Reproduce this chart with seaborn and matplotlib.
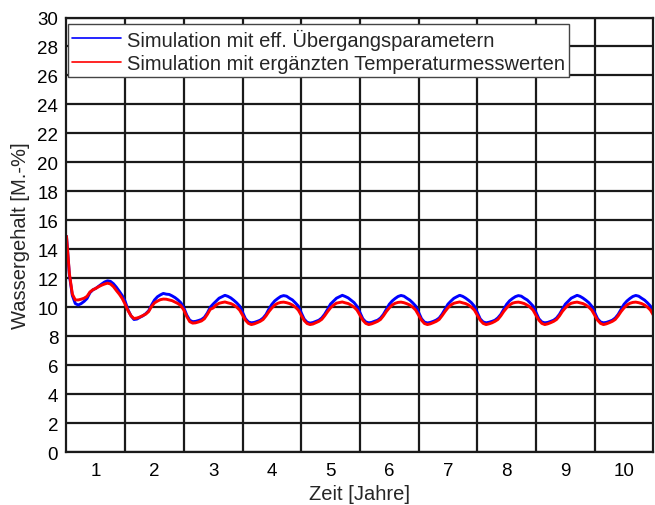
import numpy as np
import pandas as pd
import matplotlib
matplotlib.use("Agg")
import matplotlib.pyplot as plt
import seaborn as sns

# --- SETUP ---
sns.set_theme(style="white")
plt.rcParams["font.family"] = ["Liberation Sans", "DejaVu Sans"]

# --- DATA ---
# water content [M.-%], one value every 0.05 years from 0.5 to 10.5
zeit = np.round(np.arange(0.5, 10.5001, 0.05), 2)

label_blue = "Simulation mit eff. Übergangsparametern"
label_red = "Simulation mit ergänzten Temperaturmesswerten"

# each block covers year n-0.5 .. n+0.45
blue_1 = [14.9, 12.2, 10.8, 10.25, 10.15, 10.25, 10.4, 10.6, 11.0, 11.2,
          11.3, 11.45, 11.6, 11.74, 11.82, 11.78, 11.62, 11.38, 11.1, 10.8]
blue_2 = [10.4, 9.8, 9.4, 9.15, 9.18, 9.3, 9.4, 9.55, 9.75, 10.15,
          10.5, 10.72, 10.85, 10.95, 10.9, 10.88, 10.78, 10.66, 10.5, 10.3]
blue_3 = [9.95, 9.45, 9.1, 9.0, 9.02, 9.08, 9.15, 9.3, 9.6, 10.0,
          10.22, 10.42, 10.62, 10.72, 10.82, 10.75, 10.64, 10.48, 10.3, 10.08]
blue_4 = [9.65, 9.2, 8.98, 8.92, 8.95, 9.02, 9.1, 9.25, 9.5, 9.88,
          10.2, 10.44, 10.6, 10.74, 10.8, 10.76, 10.62, 10.5, 10.3, 10.08]
blue_5 = [9.62, 9.18, 8.96, 8.9, 8.94, 9.02, 9.1, 9.26, 9.52, 9.86,
          10.22, 10.42, 10.62, 10.72, 10.82, 10.74, 10.64, 10.48, 10.32, 10.06]
blue_6 = [9.64, 9.2, 8.98, 8.92, 8.95, 9.03, 9.1, 9.25, 9.5, 9.85,
          10.2, 10.43, 10.6, 10.74, 10.81, 10.76, 10.62, 10.49, 10.3, 10.08]
blue_7 = [9.65, 9.2, 8.97, 8.91, 8.95, 9.02, 9.11, 9.25, 9.52, 9.86,
          10.21, 10.42, 10.61, 10.72, 10.82, 10.75, 10.63, 10.48, 10.31, 10.07]
blue_8 = [9.64, 9.19, 8.98, 8.92, 8.96, 9.02, 9.1, 9.26, 9.5, 9.85,
          10.2, 10.44, 10.6, 10.73, 10.8, 10.76, 10.62, 10.5, 10.3, 10.08]
blue_9 = [9.65, 9.2, 8.98, 8.92, 8.95, 9.02, 9.1, 9.25, 9.51, 9.86,
          10.21, 10.42, 10.62, 10.72, 10.82, 10.75, 10.63, 10.48, 10.31, 10.07]
blue_10 = [9.64, 9.2, 8.98, 8.92, 8.95, 9.02, 9.1, 9.25, 9.5, 9.85,
           10.2, 10.43, 10.6, 10.74, 10.81, 10.76, 10.62, 10.49, 10.3, 10.08, 9.62]

red_1 = [14.9, 12.3, 10.9, 10.5, 10.5, 10.55, 10.62, 10.75, 11.05, 11.2,
         11.3, 11.42, 11.52, 11.6, 11.66, 11.6, 11.42, 11.15, 10.9, 10.6]
red_2 = [10.2, 9.75, 9.4, 9.22, 9.25, 9.32, 9.42, 9.52, 9.7, 10.05,
         10.3, 10.42, 10.52, 10.56, 10.55, 10.5, 10.45, 10.35, 10.25, 10.1]
red_3 = [9.8, 9.35, 9.0, 8.9, 8.92, 8.98, 9.05, 9.2, 9.5, 9.85,
         9.95, 10.15, 10.27, 10.32, 10.36, 10.3, 10.25, 10.15, 10.0, 9.8]
red_4 = [9.45, 9.1, 8.88, 8.8, 8.85, 8.93, 9.02, 9.15, 9.4, 9.7,
         9.95, 10.15, 10.27, 10.33, 10.35, 10.31, 10.25, 10.15, 10.0, 9.8]
red_5 = [9.44, 9.08, 8.87, 8.8, 8.84, 8.93, 9.02, 9.16, 9.41, 9.7,
         9.96, 10.14, 10.28, 10.32, 10.36, 10.3, 10.25, 10.14, 10.0, 9.8]
red_6 = [9.45, 9.1, 8.88, 8.8, 8.85, 8.93, 9.02, 9.15, 9.4, 9.7,
         9.95, 10.15, 10.27, 10.33, 10.35, 10.31, 10.24, 10.15, 10.0, 9.8]
red_7 = [9.45, 9.1, 8.87, 8.8, 8.85, 8.93, 9.02, 9.15, 9.41, 9.7,
         9.96, 10.15, 10.27, 10.32, 10.36, 10.3, 10.25, 10.15, 10.0, 9.8]
red_8 = [9.45, 9.1, 8.88, 8.8, 8.85, 8.92, 9.02, 9.15, 9.4, 9.7,
         9.95, 10.15, 10.28, 10.33, 10.35, 10.31, 10.25, 10.14, 10.0, 9.8]
red_9 = [9.44, 9.1, 8.88, 8.8, 8.85, 8.93, 9.02, 9.15, 9.4, 9.71,
         9.95, 10.15, 10.27, 10.32, 10.35, 10.3, 10.25, 10.15, 10.0, 9.8]
red_10 = [9.45, 9.1, 8.88, 8.8, 8.85, 8.93, 9.02, 9.15, 9.4, 9.7,
          9.95, 10.15, 10.27, 10.33, 10.35, 10.31, 10.25, 10.15, 10.0, 9.8, 9.45]

blue = (blue_1 + blue_2 + blue_3 + blue_4 + blue_5
        + blue_6 + blue_7 + blue_8 + blue_9 + blue_10)
red = (red_1 + red_2 + red_3 + red_4 + red_5
       + red_6 + red_7 + red_8 + red_9 + red_10)

df = pd.concat([
    pd.DataFrame({"zeit": zeit, "wasser": blue, "reihe": label_blue}),
    pd.DataFrame({"zeit": zeit, "wasser": red, "reihe": label_red}),
])

# --- PLOT ---
fig = plt.figure(figsize=(6.55, 5.06), dpi=100)
ax = fig.add_axes([0.1015, 0.1047, 0.896, 0.8587])

sns.lineplot(
    data=df, x="zeit", y="wasser", hue="reihe",
    hue_order=[label_blue, label_red],
    palette={label_blue: "#0000ff", label_red: "#ff0000"},
    estimator=None, errorbar=None, linewidth=2.1, ax=ax,
)

ax.set_xlim(0.5, 10.5)
ax.set_ylim(0, 30)
ax.set_xticks(range(1, 11))
ax.set_xticks(np.arange(1.5, 10.0, 1.0), minor=True)
ax.set_yticks(range(0, 31, 2))
ax.grid(False)
ax.xaxis.grid(True, which="minor", color="#1a1a1a", linewidth=1.6)
ax.yaxis.grid(True, which="major", color="#1a1a1a", linewidth=1.6)
ax.set_axisbelow(True)
ax.tick_params(which="both", length=0, labelsize=13.5, colors="black")
ax.tick_params(axis="x", pad=7)
ax.tick_params(axis="y", pad=6)
for s in ax.spines.values():
    s.set_color("#1a1a1a")
    s.set_linewidth(1.6)

ax.set_xlabel("Zeit [Jahre]", fontsize=14.5, labelpad=4)
ax.set_ylabel("Wassergehalt [M.-%]", fontsize=14.5, labelpad=5)

handles, labels = ax.get_legend_handles_labels()
leg = ax.legend(
    handles, labels, loc="upper left", bbox_to_anchor=(0.0026, 0.985),
    borderaxespad=0, fontsize=14.5, handlelength=2.4, handletextpad=0.3,
    labelspacing=0.2, borderpad=0.22, fancybox=False, framealpha=1,
    edgecolor="#444444",
)
leg.get_frame().set_linewidth(1.0)
for line in leg.get_lines():
    line.set_linewidth(1.2)

fig.savefig("out.png", dpi=100)
